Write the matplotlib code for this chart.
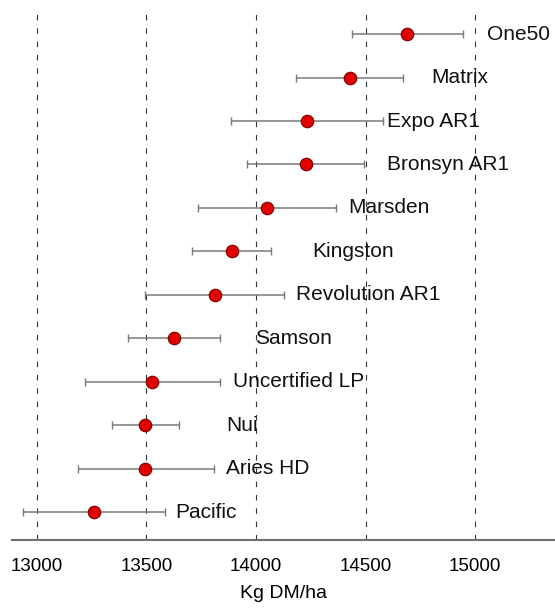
import numpy as np
import matplotlib.pyplot as plt

plt.rcParams['font.family'] = ['Liberation Sans', 'DejaVu Sans']

# cultivars, bottom to top
cultivars = ["Pacific", "Aries HD", "Nui", "Uncertified LP", "Samson",
             "Revolution AR1", "Kingston", "Marsden", "Bronsyn AR1",
             "Expo AR1", "Matrix", "One50"]
yield_mean = [13261, 13495, 13495, 13526, 13625, 13813, 13889, 14049,
              14228, 14231, 14428, 14691]
ci_low = [12938, 13186, 13342, 13218, 13417, 13495, 13708, 13733,
          13961, 13886, 14184, 14437]
ci_high = [13583, 13806, 13650, 13834, 13837, 14127, 14068, 14365,
           14494, 14578, 14673, 14945]
# where each name label starts (x, data units)
label_x = [13630, 13862, 13863, 13896, 13997, 14184, 14257, 14420,
           14596, 14599, 14798, 15055]

xticks = [13000, 13500, 14000, 14500, 15000]

y = np.arange(len(cultivars))
mean = np.array(yield_mean)
err = [mean - np.array(ci_low), np.array(ci_high) - mean]

fig = plt.figure(figsize=(5.55, 6.08), dpi=100)
ax = fig.add_axes([0.0216, 0.1118, 0.9784, 0.8750])

for xv in xticks:
    ax.axvline(xv, color="#333333", lw=0.8, ls=(0, (5, 7)), zorder=0)

ax.errorbar(mean, y, xerr=err, fmt="none", ecolor="#7a7a7a", elinewidth=1.1,
            capsize=3, capthick=1.0, zorder=2)
ax.plot(mean, y, "o", ms=9, mfc="#e00000", mec="#7a0000", mew=0.8, zorder=3)

for xi, yi, name in zip(label_x, y, cultivars):
    ax.text(xi, yi, name, fontsize=15, va="center", ha="left", color="#111111")

ax.set_xlim(12886, 15365)
ax.set_ylim(-0.64, 11.6)
ax.set_yticks([])
ax.set_xticks(xticks)
ax.set_xticklabels([str(v) for v in xticks], fontsize=13.5)
ax.tick_params(axis="x", length=0, pad=13)
ax.set_xlabel("Kg DM/ha", fontsize=14, labelpad=7)

for s in ["left", "right", "top"]:
    ax.spines[s].set_visible(False)
ax.spines["bottom"].set_color("#707070")
ax.spines["bottom"].set_linewidth(1.5)

fig.savefig("out.png", dpi=100)
